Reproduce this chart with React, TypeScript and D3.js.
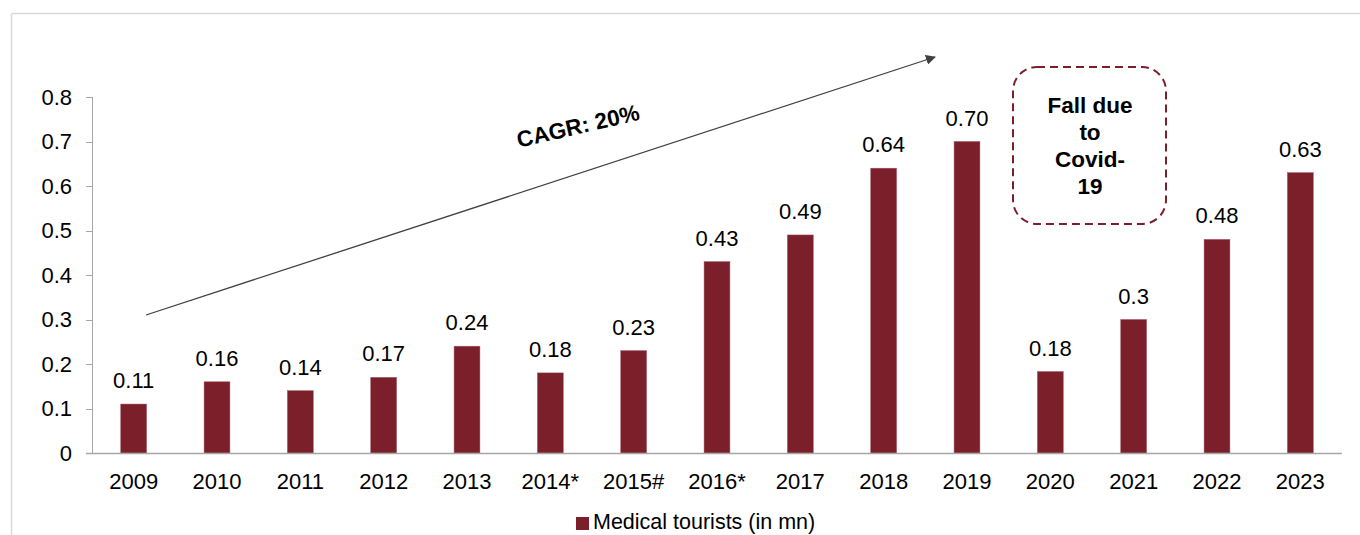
import React from "react";
import * as d3 from "d3";

const categories = ["2009", "2010", "2011", "2012", "2013", "2014*", "2015#", "2016*", "2017", "2018", "2019", "2020", "2021", "2022", "2023"];
const values = [0.11, 0.16, 0.14, 0.17, 0.24, 0.18, 0.23, 0.43, 0.49, 0.64, 0.7, 0.183, 0.3, 0.48, 0.63];
const valueLabels = ["0.11", "0.16", "0.14", "0.17", "0.24", "0.18", "0.23", "0.43", "0.49", "0.64", "0.70", "0.18", "0.3", "0.48", "0.63"];
const yTicks = [0, 0.1, 0.2, 0.3, 0.4, 0.5, 0.6, 0.7, 0.8];
const seriesName = "Medical tourists (in mn)";
const boxLines = ["Fall due", "to", "Covid-", "19"];

const W = 1360;
const H = 535;
const FONT = "'Liberation Sans', Arial, sans-serif";
const BAR = "#7b1f2b";
const FS = 22;

export default function App() {
  const x = d3.scaleBand<string>().domain(categories).range([92, 1342]).paddingInner(0.69).paddingOuter(0.345);
  const y = d3.scaleLinear().domain([0, 0.8]).range([453, 97]);

  return (
    <svg width={W} height={H} style={{ position: "absolute", left: 0, top: 0 }} fontFamily={FONT}>
      <defs>
        <marker id="arr" viewBox="0 0 10 10" refX="9" refY="5" markerWidth="10" markerHeight="10" orient="auto" markerUnits="userSpaceOnUse">
          <path d="M0,0 L10,5 L0,10 z" fill="#404040" />
        </marker>
      </defs>
      <rect x={0} y={0} width={W} height={H} fill="#fff" />
      {/* frame */}
      <line x1={11.5} y1={13.5} x2={W} y2={13.5} stroke="#d9d9d9" strokeWidth={1.5} />
      <line x1={11.5} y1={13.5} x2={11.5} y2={H} stroke="#d9d9d9" strokeWidth={1.5} />

      {/* y axis */}
      <line x1={92.5} y1={y(0.8)} x2={92.5} y2={y(0)} stroke="#a6a6a6" strokeWidth={1} />
      {yTicks.map((t) => (
        <g key={t}>
          <line x1={86} x2={92.5} y1={Math.round(y(t)) + 0.5} y2={Math.round(y(t)) + 0.5} stroke="#a6a6a6" />
          <text x={72} y={y(t)} dy="0.36em" textAnchor="end" fontSize={FS} fill="#000">
            {t === 0 ? "0" : d3.format(".1f")(t)}
          </text>
        </g>
      ))}

      {/* bars */}
      {categories.map((c, i) => (
        <g key={c}>
          <rect x={x(c)!} y={y(values[i])} width={x.bandwidth()} height={y(0) - y(values[i])} fill={BAR} stroke="#a05560" strokeWidth={0.5} />
          <text x={x(c)! + x.bandwidth() / 2} y={y(values[i]) - 16} textAnchor="middle" fontSize={FS} fill="#000">
            {valueLabels[i]}
          </text>
          <text x={x(c)! + x.bandwidth() / 2} y={489} textAnchor="middle" fontSize={FS} fill="#000">
            {c}
          </text>
        </g>
      ))}

      {/* x axis */}
      <line x1={86} x2={1342} y1={453.5} y2={453.5} stroke="#a6a6a6" strokeWidth={1.5} />

      {/* CAGR arrow */}
      <line x1={146} y1={315} x2={935} y2={57} stroke="#404040" strokeWidth={1.3} markerEnd="url(#arr)" />
      <text x={578} y={126} textAnchor="middle" dy="0.35em" fontSize={22.5} fontWeight="bold" transform="rotate(-13 578 126)" fill="#000">
        CAGR: 20%
      </text>

      {/* Covid box */}
      <rect x={1013} y={67} width={153} height={157} rx={24} ry={24} fill="none" stroke={BAR} strokeWidth={2} strokeDasharray="8 5" />
      {boxLines.map((l, i) => (
        <text key={l} x={1090} y={105 + i * 27} dy="0.35em" textAnchor="middle" fontSize={22.5} fontWeight="bold" fill="#000">
          {l}
        </text>
      ))}

      {/* legend */}
      <rect x={576} y={517} width={13} height={13} fill={BAR} />
      <text x={593} y={529} fontSize={21.5} fill="#000">
        {seriesName}
      </text>
    </svg>
  );
}
